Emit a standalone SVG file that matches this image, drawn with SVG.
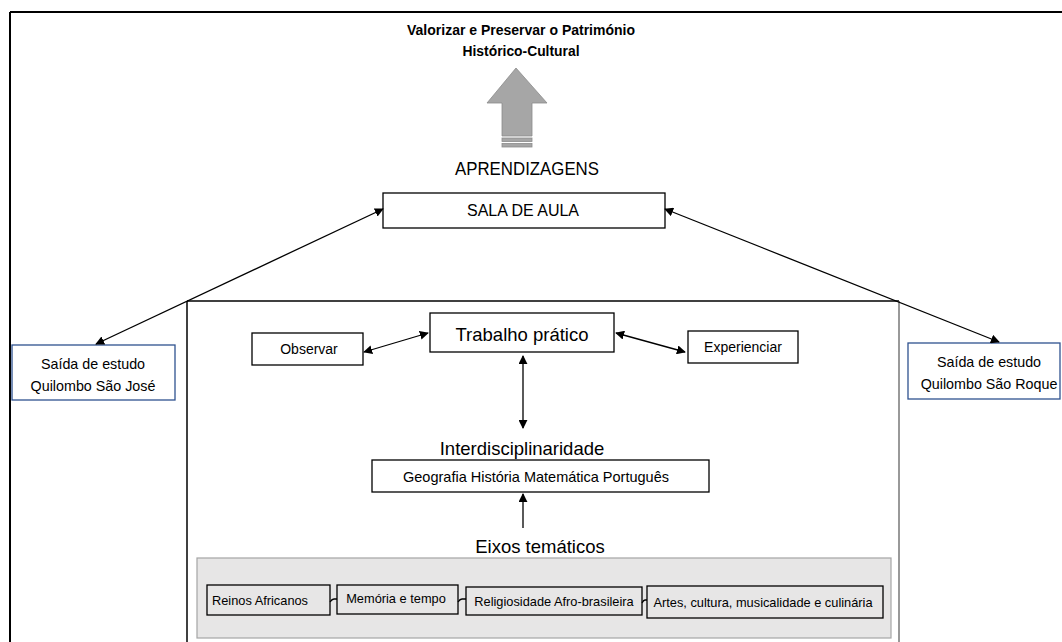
<svg xmlns="http://www.w3.org/2000/svg" width="1062" height="642" viewBox="0 0 1062 642">
<style>
text{font-family:"Liberation Sans",Arial,sans-serif;fill:#000;text-anchor:middle}
.box{fill:#fff;stroke:#000;stroke-width:1.3}
.bbox{fill:#fff;stroke:#2F528F;stroke-width:1.3}
.sbox{fill:#E7E6E6;stroke:#000;stroke-width:1.3}
.con{fill:none;stroke:#000;stroke-width:1.3}
.big{font-size:18.5px}
.sm{font-size:12.8px}
</style>
<defs>
<marker id="ah" viewBox="0 0 10 10" refX="9" refY="5" markerWidth="9" markerHeight="9" markerUnits="userSpaceOnUse" orient="auto-start-reverse">
<path d="M0,0 L10,5 L0,10 Z" fill="#000"/>
</marker>
</defs>
<rect width="1062" height="642" fill="#fff"/>
<g id="frame">
<line x1="10" y1="12" x2="1062" y2="12" stroke="#000" stroke-width="2"/>
<line x1="10" y1="12" x2="10" y2="642" stroke="#000" stroke-width="2"/>
<line x1="187" y1="301" x2="899" y2="301" stroke="#000" stroke-width="1.5"/>
<line x1="187" y1="301" x2="187" y2="642" stroke="#000" stroke-width="1.5"/>
<line x1="899" y1="301" x2="899" y2="642" stroke="#777" stroke-width="1.5"/>
</g>
<g id="title">
<text x="521" y="35" font-size="14" font-weight="bold" textLength="228" lengthAdjust="spacingAndGlyphs">Valorizar e Preservar o Património</text>
<text x="521" y="56" font-size="14" font-weight="bold" textLength="117" lengthAdjust="spacingAndGlyphs">Histórico-Cultural</text>
</g>
<g id="blockarrow" fill="#A6A6A6" stroke="#8C8C8C" stroke-width="0.8">
<path d="M516,68 L547,103 L532,103 L532,136 L502,136 L502,103 L487,103 Z"/>
<rect x="502" y="138" width="30" height="3.5"/>
<rect x="502" y="143.5" width="30" height="3.5"/>
</g>
<g id="aprendizagens"><text class="big" x="527" y="175" textLength="144" lengthAdjust="spacingAndGlyphs">APRENDIZAGENS</text></g>
<g id="sala">
<rect class="box" x="383" y="193" width="282" height="35"/>
<text x="523" y="216" font-size="16">SALA DE AULA</text>
</g>
<g id="saojose">
<rect class="bbox" x="12" y="345" width="163" height="55"/>
<text x="93" y="369" font-size="14.3">Saída de estudo</text>
<text x="93" y="391" font-size="14.3">Quilombo São José</text>
</g>
<g id="saoroque">
<rect class="bbox" x="908" y="343" width="152" height="56"/>
<text x="989" y="367" font-size="14.3">Saída de estudo</text>
<text x="989" y="389" font-size="14.3">Quilombo São Roque</text>
</g>
<g id="trabalho">
<rect class="box" x="430" y="313" width="184" height="39"/>
<text class="big" x="522" y="341">Trabalho prático</text>
</g>
<g id="observar">
<rect class="box" x="252" y="333" width="111" height="32"/>
<text x="309" y="354" font-size="14">Observar</text>
</g>
<g id="experienciar">
<rect class="box" x="688" y="331" width="110" height="32"/>
<text x="743" y="352" font-size="14">Experienciar</text>
</g>
<g id="interdisciplinaridade"><text class="big" x="522" y="455">Interdisciplinaridade</text></g>
<g id="geografia">
<rect class="box" x="372" y="460" width="337" height="32"/>
<text x="536" y="481.5" font-size="14.5">Geografia História Matemática Português</text>
</g>
<g id="eixos-label"><text class="big" x="540" y="553">Eixos temáticos</text></g>
<g id="eixos">
<rect x="197" y="558" width="694" height="80" fill="#E7E6E6" stroke="#A5A5A5" stroke-width="1.2"/>
</g>
<g id="reinos">
<rect class="sbox" x="207" y="585" width="123" height="30"/>
<text class="sm" x="260" y="605">Reinos Africanos</text>
</g>
<g id="memoria">
<rect class="sbox" x="337" y="585" width="121" height="29"/>
<text class="sm" x="396" y="603">Memória e tempo</text>
</g>
<g id="religiosidade">
<rect class="sbox" x="466" y="587" width="176" height="28"/>
<text class="sm" x="554" y="606">Religiosidade Afro-brasileira</text>
</g>
<g id="artes">
<rect class="sbox" x="647" y="586" width="236" height="32"/>
<text class="sm" x="763" y="607">Artes, cultura, musicalidade e culinária</text>
</g>
<g id="connectors">
<line class="con" x1="383" y1="209" x2="96" y2="344" marker-start="url(#ah)" marker-end="url(#ah)"/>
<line class="con" x1="665" y1="209" x2="999" y2="342" marker-start="url(#ah)" marker-end="url(#ah)"/>
<line class="con" x1="364" y1="352" x2="428" y2="333" marker-start="url(#ah)" marker-end="url(#ah)"/>
<line class="con" x1="616" y1="333" x2="685" y2="352" marker-start="url(#ah)" marker-end="url(#ah)"/>
<line class="con" x1="523" y1="356" x2="523" y2="428" stroke-width="2.2" marker-start="url(#ah)" marker-end="url(#ah)"/>
<line class="con" x1="523" y1="528" x2="523" y2="494" stroke-width="2.2" marker-end="url(#ah)"/>
<path class="con" d="M330,602 q2,-3 4,-3 h3"/>
<path class="con" d="M458,602 q2,-3 4,-3 h4"/>
<path class="con" d="M642,603 q1.5,-3 3,-3 h2"/>
</g>
</svg>
